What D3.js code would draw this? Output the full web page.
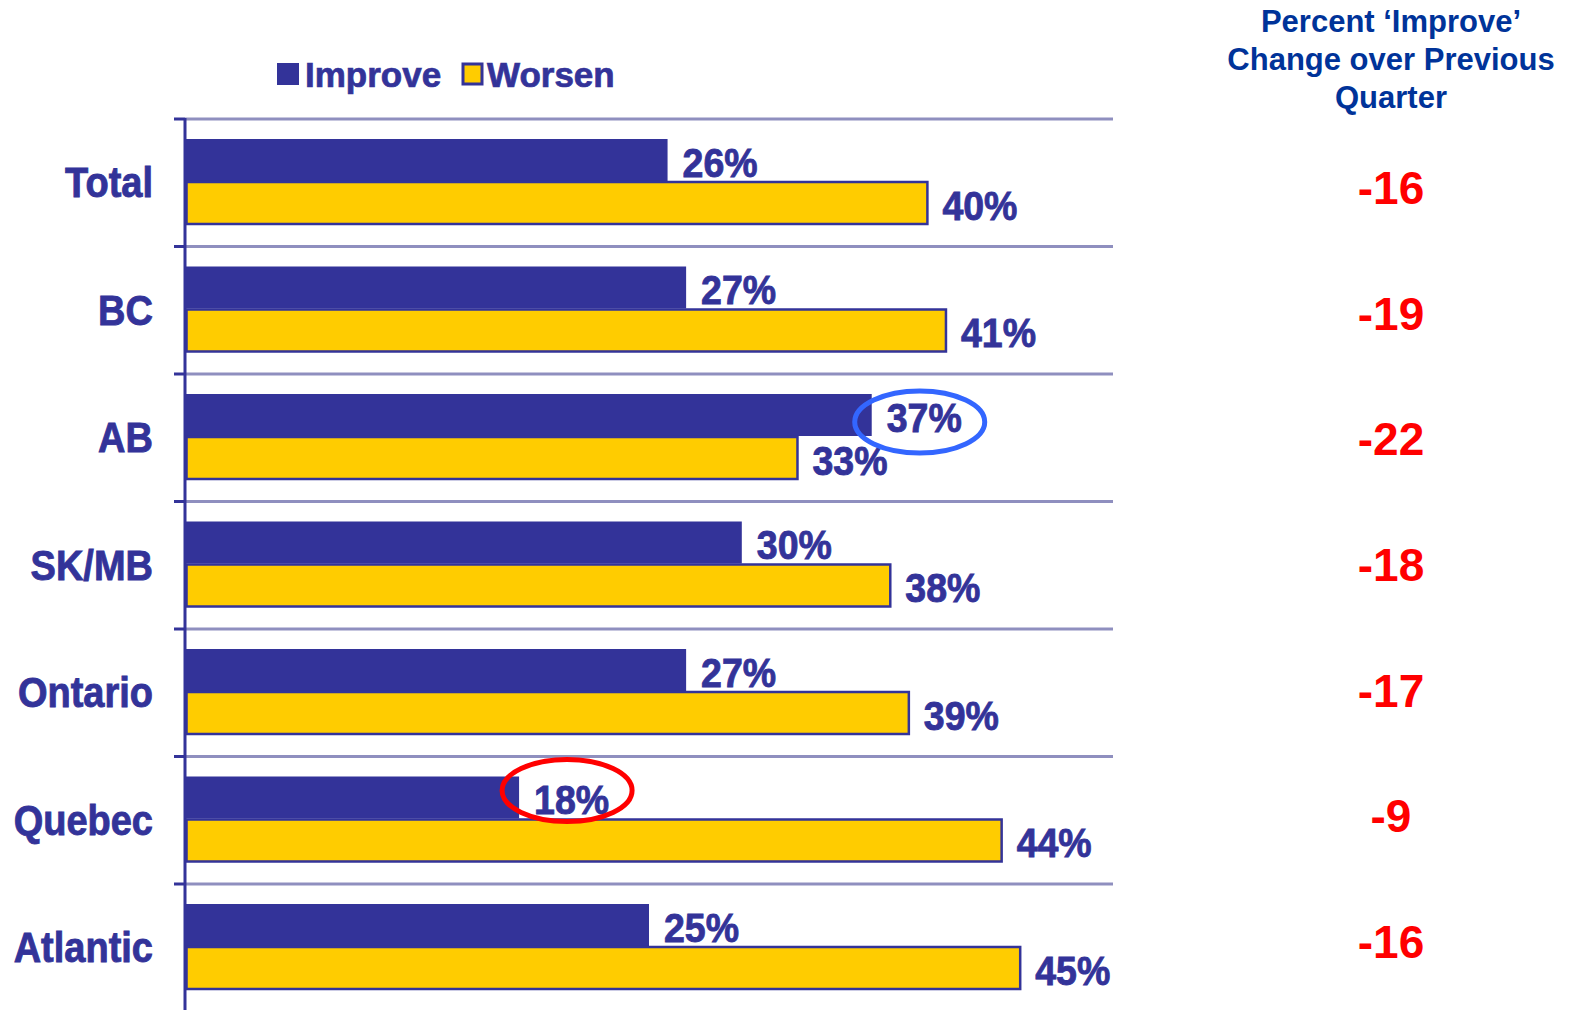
<!DOCTYPE html>
<html>
<head>
<meta charset="utf-8">
<script src="https://cdn.jsdelivr.net/npm/d3@7"></script>
<style>
  body { margin: 0; background: #fff; }
  text { font-family: "Liberation Sans", Arial, sans-serif; font-weight: bold; }
</style>
</head>
<body>
<div id="chart"></div>
<script>
const regions = ["Total", "BC", "AB", "SK/MB", "Ontario", "Quebec", "Atlantic"],
      improve = [26, 27, 37, 30, 27, 18, 25],
      worsen = [40, 41, 33, 38, 39, 44, 45],
      change = [-16, -19, -22, -18, -17, -9, -16],
      // which 'improve' labels get a ring drawn round them
      ringed = [{region: "AB", colour: "#3366ff", dy: 48}, {region: "Quebec", colour: "#ff0000", dy: 34}],
      headerLines = ["Percent \u2018Improve\u2019", "Change over Previous", "Quarter"]

const W = 1579, H = 1010,
      navy = "#333399",
      gold = "#ffcc00",
      x = d3.scaleLinear().domain([0, 50]).range([185, 1113]),
      y = d3.scaleBand().domain(regions).range([119, 119 + 7 * 127.5]),
      yRight = d3.scalePoint().domain(regions).range([188, 942])

const svg = d3.select("#chart").append("svg")
  .attr("width", W)
  .attr("height", H)

// text in the chart image is a bit taller and heavier than normal
const tallText = (sel, tx, ty, str, size, anchor, sy) => {
  sel.append("g")
    .attr("transform", `translate(${tx},${ty}) scale(1,${sy})`)
    .append("text")
      .attr("text-anchor", anchor)
      .attr("dominant-baseline", "central")
      .attr("font-size", size)
      .attr("fill", navy)
      .attr("stroke", navy)
      .attr("stroke-width", 0.8)
      .text(str)
}

// separators
svg.append("g").selectAll("line")
  .data(regions)
  .join("line")
    .attr("x1", x(0))
    .attr("x2", x(50))
    .attr("y1", d => y(d))
    .attr("y2", d => y(d))
    .attr("stroke", "#8f8fbf")
    .attr("stroke-width", 3)

// ticks on the left of the axis
svg.append("g").selectAll("line")
  .data(regions)
  .join("line")
    .attr("x1", 174)
    .attr("x2", x(0))
    .attr("y1", d => y(d))
    .attr("y2", d => y(d))
    .attr("stroke", navy)
    .attr("stroke-width", 3)

svg.append("line")
  .attr("x1", x(0)).attr("x2", x(0))
  .attr("y1", y.range()[0] - 1).attr("y2", H)
  .attr("stroke", navy)
  .attr("stroke-width", 3)

const bars = svg.append("g")

bars.selectAll(".imp")
  .data(regions)
  .join("rect")
    .attr("class", "imp")
    .attr("x", x(0) + 1)
    .attr("y", d => y(d) + 20)
    .attr("width", (d, i) => x(improve[i]) - x(0) - 1)
    .attr("height", 42)
    .attr("fill", navy)

bars.selectAll(".wor")
  .data(regions)
  .join("rect")
    .attr("class", "wor")
    .attr("x", x(0) + 1.5)
    .attr("y", d => y(d) + 63)
    .attr("width", (d, i) => x(worsen[i]) - x(0) - 1.5)
    .attr("height", 42)
    .attr("fill", gold)
    .attr("stroke", navy)
    .attr("stroke-width", 2.5)

// value labels + category names
regions.forEach((r, i) => {
  tallText(svg, x(improve[i]) + 15, y(r) + 44, improve[i] + "%", 37.5, "start", 1.06)
  tallText(svg, x(worsen[i]) + 15, y(r) + 87, worsen[i] + "%", 37.5, "start", 1.06)
  tallText(svg, 153, y(r) + y.bandwidth() / 2, r, 38, "end", 1.1)
})

// rings
ringed.forEach(d => {
  const i = regions.indexOf(d.region)
  svg.append("ellipse")
    .attr("cx", x(improve[i]) + 48)
    .attr("cy", y(d.region) + d.dy)
    .attr("rx", 65)
    .attr("ry", 31)
    .attr("fill", "none")
    .attr("stroke", d.colour)
    .attr("stroke-width", 5)
})

// legend
const legend = svg.append("g")
legend.append("rect")
  .attr("x", 277).attr("y", 63).attr("width", 22).attr("height", 22)
  .attr("fill", navy)
legend.append("text")
  .attr("x", 305).attr("y", 74)
  .attr("dominant-baseline", "central")
  .attr("font-size", 35).attr("fill", navy)
  .attr("stroke", navy).attr("stroke-width", 0.7)
  .text("Improve")
legend.append("rect")
  .attr("x", 463).attr("y", 64).attr("width", 19).attr("height", 20)
  .attr("fill", gold).attr("stroke", navy).attr("stroke-width", 3)
legend.append("text")
  .attr("x", 487).attr("y", 74)
  .attr("dominant-baseline", "central")
  .attr("font-size", 35).attr("fill", navy)
  .attr("stroke", navy).attr("stroke-width", 0.7)
  .text("Worsen")

// right column
svg.append("g").selectAll("text")
  .data(headerLines)
  .join("text")
    .attr("x", 1391)
    .attr("y", (d, i) => 32 + i * 38)
    .attr("text-anchor", "middle")
    .attr("font-size", 31)
    .attr("fill", "#003399")
    .text(d => d)

svg.append("g").selectAll("text")
  .data(regions)
  .join("text")
    .attr("x", 1391)
    .attr("y", d => yRight(d))
    .attr("text-anchor", "middle")
    .attr("dominant-baseline", "central")
    .attr("font-size", 46)
    .attr("fill", "#ff0000")
    .text((d, i) => change[i])
</script>
</body>
</html>
